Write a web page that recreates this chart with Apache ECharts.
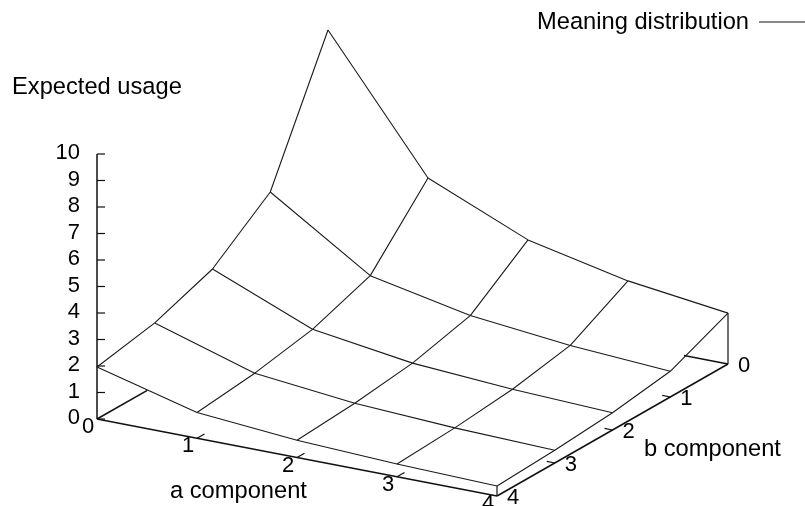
<!DOCTYPE html>
<html><head><meta charset="utf-8">
<style>html,body{margin:0;padding:0;background:#fff}#c{width:805px;height:506px}</style>
<script src="https://cdn.jsdelivr.net/npm/echarts@6/dist/echarts.min.js"></script>
</head><body><div id="c"></div>
<script>
// Values
const aTicks = [0, 1, 2, 3, 4];
const bTicks = [0, 1, 2, 3, 4];
const zTicks = [0, 1, 2, 3, 4, 5, 6, 7, 8, 9, 10];
// expected usage: rows are b = 0..4, columns a = 0..4
const usageB0 = [9.7, 4.84, 3.23, 2.41, 1.92];
const usageB1 = [4.83, 2.4, 1.62, 1.22, 0.97];
const usageB2 = [3.17, 1.62, 1.07, 0.81, 0.65];
const usageB3 = [2.38, 1.21, 0.8, 0.6, 0.48];
const usageB4 = [1.96, 0.97, 0.65, 0.48, 0.38];
const usage = [usageB0, usageB1, usageB2, usageB3, usageB4];
const seriesName = 'Meaning distribution';
// where the back floor edges disappear behind the surface
const backEdgeVisibleToB = 3.13;
const backEdgeVisibleToA = 3.56;

// View projection of the 3D box onto the page plane
const O = [328, 287], AX = [100, 19.25], BX = [-57.75, 33], ZS = 26.5;
const P = (a, b, z) => [O[0] + a*AX[0] + b*BX[0], O[1] + a*AX[1] + b*BX[1] - (z||0)*ZS];

const FONT = 'Liberation Sans', FS = 23.7, TICK_FS = 22;
const axisLine = {color:'#111', width:1.5};
const thinLine = {color:'#1a1a1a', width:1.1};
const series = [];
const seg = (pts, ls, name) => series.push({type:'line', name, data:pts, symbol:'none', silent:true,
  lineStyle:ls, z:2, animation:false, clip:false});
const labels = (items, align, off) => series.push({type:'scatter', data:items.map(i=>({value:i.p, name:i.t})),
  symbolSize:1, itemStyle:{color:'transparent', opacity:1}, silent:true, animation:false, clip:false,
  label:{show:true, position:'inside', formatter:p=>p.name, align, verticalAlign:'middle', offset:off,
    fontFamily:FONT, fontSize:TICK_FS, color:'#000', opacity:1}});

// floor edges and axes
seg([P(0,4),P(4,4)], axisLine);
seg([P(4,4),P(4,0)], axisLine);
seg([P(0,4),P(0,backEdgeVisibleToB)], axisLine);
seg([P(4,0),P(backEdgeVisibleToA,0)], axisLine);
seg([P(0,4,0),P(0,4,10)], axisLine);
seg([P(4,0,0),P(4,0,usage[0][4])], {color:'#111',width:1.2});
seg([P(4,4,0),P(4,4,usage[4][4])], {color:'#111',width:1.2});

// ticks
zTicks.forEach(z=>{const p=P(0,4,z); seg([p,[p[0]+8,p[1]]], {color:'#111',width:1.2});});
aTicks.slice(1,-1).forEach(a=>seg([P(a,4),P(a,3.87)], {color:'#111',width:1.2}));
bTicks.slice(1,-1).forEach(b=>seg([P(4,b),P(3.92,b)], {color:'#111',width:1.2}));

// surface wires
usage.forEach((row,b)=>seg(row.map((z,a)=>P(a,b,z)), thinLine, seriesName));
aTicks.forEach(a=>seg(usage.map((row,b)=>P(a,b,row[a])), thinLine, seriesName));

// tick labels
labels(zTicks.map(z=>({p:P(0,4,z), t:String(z)})), 'right', [-17,-1]);
labels(aTicks.map(a=>({p:P(a,4), t:String(a)})), 'center', [-9,8]);
labels(bTicks.map(b=>({p:P(4,b), t:String(b)})), 'center', [16,2]);

echarts.init(document.getElementById('c'),null,{renderer:'canvas'}).setOption({
  animation:false, backgroundColor:'#fff',
  grid:{left:0, top:0, width:805, height:506},
  xAxis:{type:'value', min:0, max:805, show:false},
  yAxis:{type:'value', min:0, max:506, inverse:true, show:false},
  legend:{data:[{name:seriesName, icon:'rect', itemStyle:{color:'#888'}}], right:0, top:10, align:'right',
    itemWidth:46, itemHeight:2, itemGap:0, padding:0, selectedMode:false,
    textStyle:{fontFamily:FONT, fontSize:FS, color:'#000', padding:[0,5,5,0]}},
  graphic:[
    {type:'text', x:12, y:87, silent:true, style:{text:'Expected usage', font:FS+'px "'+FONT+'"', fill:'#000', verticalAlign:'middle'}},
    {type:'text', x:170, y:491, silent:true, style:{text:'a component', font:FS+'px "'+FONT+'"', fill:'#000', verticalAlign:'middle'}},
    {type:'text', x:644, y:449, silent:true, style:{text:'b component', font:FS+'px "'+FONT+'"', fill:'#000', verticalAlign:'middle'}}
  ],
  series
});
</script></body></html>
